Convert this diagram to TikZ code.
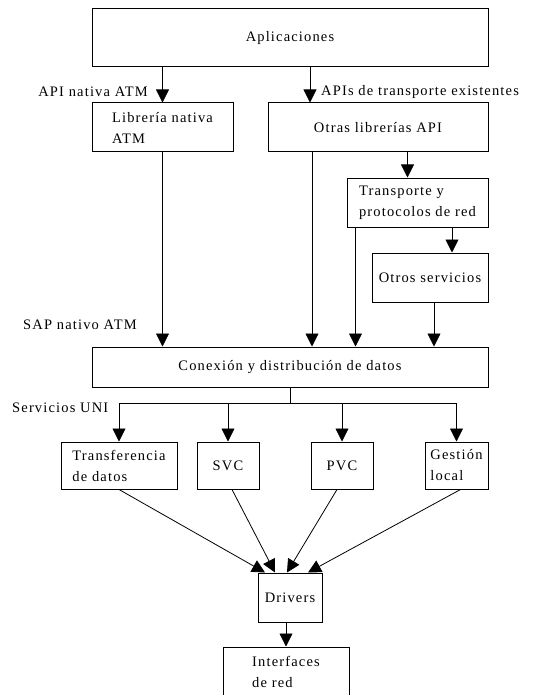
\documentclass[tikz,border=0pt]{standalone}
\usepackage{fontspec}
\setmainfont{Liberation Serif}[LetterSpace=8]
\usetikzlibrary{arrows.meta}

\begin{document}
\begin{tikzpicture}[x=1pt, y=-1pt,
	font=\fontsize{14.5}{21}\selectfont,
	box/.style={draw, line width=1pt, inner sep=0pt, align=left},
	arr/.style={line width=0.8pt, -{Triangle[width=13pt,length=13pt]}},
	lin/.style={line width=0.8pt}]
	\useasboundingbox (0,0) rectangle (532,695);
	\clip (0,0) rectangle (532,695);
	
	% Upper layers
	\node[box, minimum width=396pt, minimum height=58pt] (app) at (290,38) {Aplicaciones};
	\node[box, minimum width=141pt, minimum height=49pt] (lib) at (162.5,127.5) {Librería nativa\\ATM};
	\node[box, minimum width=220pt, minimum height=49pt] (otr) at (378,127.5) {Otras librerías API};
	\node[box, minimum width=141pt, minimum height=49pt] (trn) at (417.5,202.5) {Transporte y\\protocolos de red};
	\node[box, minimum width=116pt, minimum height=49pt] (oth) at (430,277.5) {Otros servicios};
	\node[box, minimum width=396pt, minimum height=40pt] (con) at (290,367) {Conexión y distribución de datos};
	
	% UNI services
	\node[box, minimum width=116pt, minimum height=47pt] (trf) at (119,465.5) {Transferencia\\de datos};
	\node[box, minimum width=62pt, minimum height=47pt] (svc) at (228,465.5) {SVC};
	\node[box, minimum width=62pt, minimum height=47pt] (pvc) at (342,465.5) {PVC};
	\node[box, minimum width=63pt, minimum height=47pt] (ges) at (456.5,465.5) {Gestión\\local};
	
	% Lower layers
	\node[box, minimum width=64pt, minimum height=49pt] (drv) at (290,597.5) {Drivers};
	\node[box, minimum width=126pt, minimum height=50pt] (int) at (286,672) {Interfaces\\de red};
	
	% Labels
	\node[anchor=east, inner sep=0pt] (lapi) at (148,92) {API nativa ATM};
	\node[anchor=west, inner sep=0pt] (ltra) at (321,92) {APIs de transporte existentes};
	\node[anchor=west, inner sep=0pt] (lsap) at (23,325) {SAP nativo ATM};
	\node[anchor=west, inner sep=0pt] (luni) at (12,408) {Servicios UNI};
	
	% Arrows from applications
	\draw[arr] (lib.north |- app.south) -- (lib.north);
	\draw[arr] ([xshift=-68pt]otr.north |- app.south) -- ([xshift=-68pt]otr.north);
	\draw[arr] ([xshift=-10pt]trn.north |- otr.south) -- ([xshift=-10pt]trn.north);
	\draw[arr] ([xshift=22pt]oth.north |- trn.south) -- ([xshift=22pt]oth.north);
	
	% Arrows into connection layer
	\draw[arr] (lib.south) -- (lib.south |- con.north);
	\draw[arr] ([xshift=-66pt]otr.south) -- ([xshift=-66pt]otr.south |- con.north);
	\draw[arr] ([xshift=9pt]trn.south west) -- ([xshift=9pt]trn.south west |- con.north);
	\draw[arr] ([xshift=4pt]oth.south) -- ([xshift=4pt]oth.south |- con.north);
	
	% Distribution bus
	\draw[lin] (con.south) -- ++(0,16) coordinate (bus);
	\draw[lin] (bus -| trf.north) -- (bus -| ges.north);
	\foreach \b in {trf,svc,pvc,ges}
	\draw[arr] (bus -| \b.north) -- (\b.north);
	
	% Into drivers
	\draw[arr] (trf.south) -- ([xshift=-25pt]drv.north);
	\draw[arr] ([xshift=4pt]svc.south) -- ([xshift=-15pt]drv.north);
	\draw[arr] ([xshift=-5pt]pvc.south) -- ([xshift=-3pt]drv.north);
	\draw[arr] ([xshift=4pt]ges.south) -- ([xshift=18pt]drv.north);
	\draw[arr] ([xshift=-4pt]drv.south) -- ([xshift=-4pt]drv.south |- int.north);
\end{tikzpicture}
\end{document}
